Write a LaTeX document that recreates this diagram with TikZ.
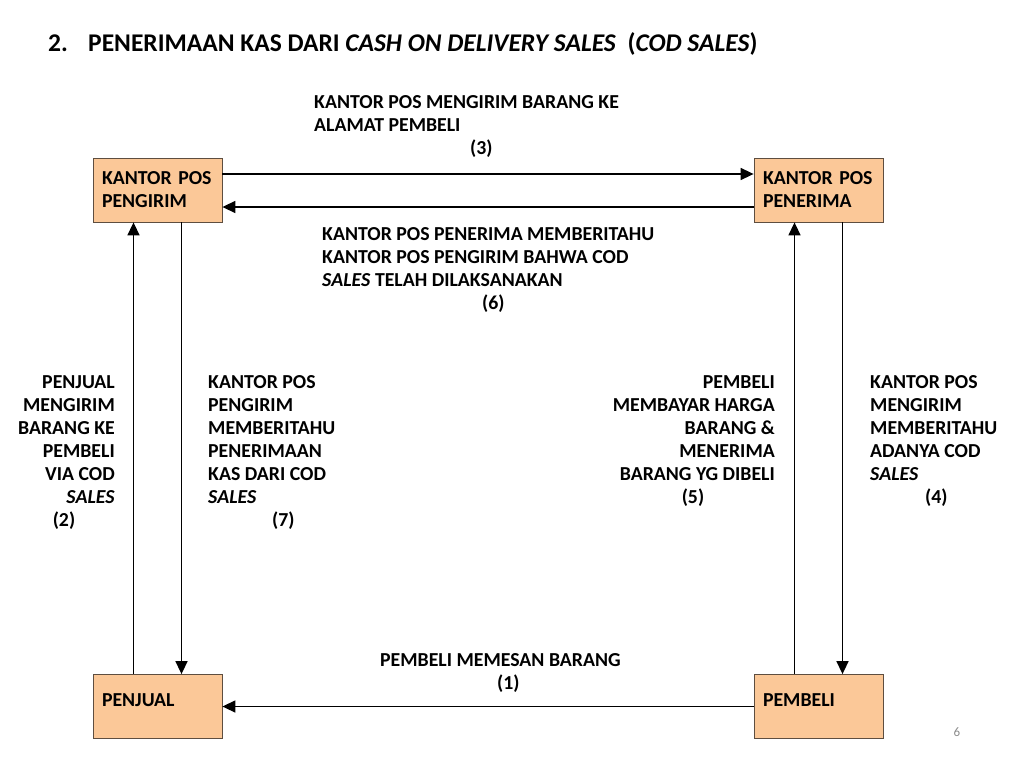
\documentclass[tikz,border=0pt]{standalone}
\usepackage{fontspec}
\setmainfont{Carlito}
\usepackage{xcolor}
\usetikzlibrary{arrows.meta}
\definecolor{peach}{HTML}{FBC898}
\definecolor{edge}{HTML}{5E4E40}
\definecolor{pagegray}{HTML}{8C8C8C}

\begin{document}
\begin{tikzpicture}[x=1pt,y=-1pt,
  party/.style={draw=edge,fill=peach,line width=0.8pt,minimum width=129pt,minimum height=64pt,text width=111pt,inner xsep=9pt,align=left,font=\fontsize{19.8}{23}\selectfont\bfseries},
  msg/.style={inner sep=0pt,font=\fontsize{19.8}{23}\selectfont\bfseries},
  flow/.style={-{Triangle[length=13pt,width=12pt]},line width=1.5pt}
]
\fill[white] (0,0) rectangle (1024,768);
\useasboundingbox (0,0) rectangle (1024,768);

\node[anchor=north west,inner sep=0pt,font=\fontsize{25.5}{30}\selectfont\bfseries] (title) at (48,32)
  {\makebox[40pt][l]{2.}PENERIMAAN KAS DARI \textit{CASH ON DELIVERY SALES}\ \ (\textit{COD SALES})};

% the four parties
\node[party] (kpengirim) at (157.5,190) {KANTOR POS\\PENGIRIM};
\node[party] (kpenerima) at (818.5,190) {KANTOR POS\\PENERIMA};
\node[party,text depth=12pt] (penjual) at (157.5,706.5) {PENJUAL};
\node[party,text depth=12pt] (pembeli) at (818.5,706.5) {PEMBELI};

% flows
\draw[flow] (pembeli.west) -- (penjual.east);
\draw[flow] ([xshift=-24pt]penjual.north) -- ([xshift=-24pt]kpengirim.south);
\draw[flow] ([yshift=16pt]kpengirim.east) -- ([yshift=16pt]kpenerima.west);
\draw[flow] ([xshift=24pt]kpenerima.south) -- ([xshift=24pt]pembeli.north);
\draw[flow] ([xshift=-24pt]pembeli.north) -- ([xshift=-24pt]kpenerima.south);
\draw[flow] ([yshift=-17pt]kpenerima.west) -- ([yshift=-17pt]kpengirim.east);
\draw[flow] ([xshift=24pt]kpengirim.south) -- ([xshift=24pt]penjual.north);

% step labels
\node[msg,anchor=north west,align=left] (lbl1) at (380,653) {PEMBELI MEMESAN BARANG\\\hspace*{117pt}(1)};
\node[msg,anchor=north east,align=right] (lbl2) at (115,375) {PENJUAL\\MENGIRIM\\BARANG KE\\PEMBELI\\VIA COD\\\textit{SALES}\\\makebox[62pt][l]{(2)}};
\node[msg,anchor=north west,align=left] (lbl3) at (314,95) {KANTOR POS MENGIRIM BARANG KE\\ALAMAT PEMBELI\\\hspace*{156pt}(3)};
\node[msg,anchor=north west,align=left] (lbl4) at (870,375) {KANTOR POS\\MENGIRIM\\MEMBERITAHU\\ADANYA COD\\\textit{SALES}\\\hspace*{55pt}(4)};
\node[msg,anchor=north east,align=right] (lbl5) at (775,375) {PEMBELI\\MEMBAYAR HARGA\\BARANG \&\\MENERIMA\\BARANG YG DIBELI\\\makebox[93pt][l]{(5)}};
\node[msg,anchor=north west,align=left] (lbl6) at (322,227) {KANTOR POS PENERIMA MEMBERITAHU\\KANTOR POS PENGIRIM BAHWA COD\\\textit{SALES} TELAH DILAKSANAKAN\\\hspace*{160pt}(6)};
\node[msg,anchor=north west,align=left] (lbl7) at (208,375) {KANTOR POS\\PENGIRIM\\MEMBERITAHU\\PENERIMAAN\\KAS DARI COD\\\textit{SALES}\\\hspace*{64pt}(7)};

\node[font=\fontsize{13}{15}\selectfont,text=pagegray] (pagenum) at (957,732) {6};
\end{tikzpicture}
\end{document}
